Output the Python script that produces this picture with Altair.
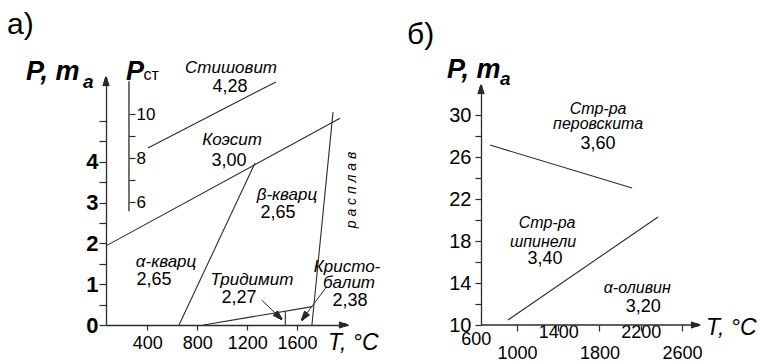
import math
import altair as alt
import pandas as pd

FONT = "Liberation Sans"
INK = "#2b2b2b"

# ================= panel а) : SiO2 =================
a_line_id = ["stish", "stish", "coes", "coes", "ab", "ab", "melt", "melt", "trid", "trid", "tc", "tc"]
a_line_T = [405, 1431, 69, 1944, 654, 1263, 1719, 1888, 849, 1722, 1506, 1506]
a_line_P = [4.34, 5.96, 1.94, 5.07, 0.0, 3.97, 0.0, 5.22, 0.0, 0.45, 0.0, 0.34]

a_arr_T0 = [1317, 1837]
a_arr_P0 = [0.61, 0.94]
a_arr_T1 = [1477, 1637]
a_arr_P1 = [0.14, 0.12]

a_pst_T = [253]
a_pst_lo = [5.6]
a_pst_hi = [11.5]
a_pst_ticks = [6, 7, 8, 9, 10]

a_xticks = [400, 800, 1200, 1600]
a_yticks = [0, 0.5, 1, 1.5, 2, 2.5, 3, 3.5, 4, 4.5, 5]

a_phase_lbl = ["Стишовит", "Коэсит", "β-кварц", "α-кварц", "Тридимит", "Кристо-", "балит"]
a_phase_T = [1071, 1079, 1519, 550, 1238, 2000, 2016]
a_phase_P = [6.30, 4.53, 3.19, 1.54, 1.10, 1.42, 1.02]

a_dens_lbl = ["4,28", "3,00", "2,65", "2,65", "2,27", "2,38"]
a_dens_T = [1063, 1055, 1447, 454, 1135, 2024]
a_dens_P = [5.83, 4.02, 2.74, 1.10, 0.66, 0.60]

a_melt_lbl = ["р  а  с  п  л  а  в"]
a_melt_T = [2040]
a_melt_P = [3.31]

# ================= panel б) : olivine =================
b_line_id = ["perov", "perov", "spin", "spin"]
b_line_T = [739, 2117, 913, 2368]
b_line_P = [27.14, 23.05, 10.48, 20.29]

b_xticks = [1000, 1400, 1800, 2200, 2600]
b_xlab_first = [600]
b_xlab_upper = [1400, 2200]
b_xlab_lower = [1000, 1800, 2600]
b_yticks = [10, 12, 14, 16, 18, 20, 22, 24, 26, 28, 30]

b_phase_lbl = ["Стр-ра", "перовскита", "Стр-ра", "шпинели", "α-оливин"]
b_phase_T = [1787, 1787, 1292, 1253, 2166]
b_phase_P = [30.60, 29.18, 19.75, 17.95, 13.52]

b_dens_lbl = ["3,60", "3,40", "3,20"]
b_dens_T = [1787, 1272, 2224]
b_dens_P = [27.24, 16.29, 11.71]

# ================= layout (scales) =================
W, H = 759, 363
XA_DOM, XA_RNG = [69, 2008], [106, 348]
YA_DOM, YA_RNG = [0, 6.08], [325, 77]
PST_DOM = [0.43, 11.69]
XB_DOM, XB_RNG = [600, 2775], [475.7, 700]
YB_DOM, YB_RNG = [10, 32.86], [325, 85]
B_ORIGIN_T = 651.4

HEAD_LEN, HEAD_W, FAN = 9.0, 6.0, 15   # arrowhead length / base width (px), strokes per head


def sc(dom, rng):
    return alt.Scale(domain=dom, range=rng, nice=False, zero=False)


SXA, SYA, SPST = sc(XA_DOM, XA_RNG), sc(YA_DOM, YA_RNG), sc(PST_DOM, YA_RNG)
SXB, SYB = sc(XB_DOM, XB_RNG), sc(YB_DOM, YB_RNG)


def lin(v, dom, rng):
    return rng[0] + (v - dom[0]) / (dom[1] - dom[0]) * (rng[1] - rng[0])


def inv(p, dom, rng):
    return dom[0] + (p - rng[0]) / (rng[1] - rng[0]) * (dom[1] - dom[0])


def head_fan(tips, xdom, xrng, ydom, yrng):
    """Filled arrowhead = fan of short strokes from the tip to points spread across the base."""
    rows = []
    for t0, p0, t1, p1 in tips:
        x0, y0 = lin(t0, xdom, xrng), lin(p0, ydom, yrng)
        x1, y1 = lin(t1, xdom, xrng), lin(p1, ydom, yrng)
        d = math.hypot(x1 - x0, y1 - y0)
        ux, uy = (x1 - x0) / d, (y1 - y0) / d
        nx, ny = -uy, ux
        bx, by = x1 - HEAD_LEN * ux, y1 - HEAD_LEN * uy
        for i in range(FAN):
            s = -HEAD_W / 2 + HEAD_W * i / (FAN - 1)
            rows.append({"T0": float(t1), "P0": float(p1),
                         "T1": inv(bx + s * nx, xdom, xrng), "P1": inv(by + s * ny, ydom, yrng)})
    return pd.DataFrame(rows)


def X(field, s, axis=None):
    return alt.X(field, type="quantitative", scale=s, axis=axis)


def Y(field, s, axis=None):
    return alt.Y(field, type="quantitative", scale=s, axis=axis)


def text_layer(lbls, Ts, Ps, sx, sy, xaxis=None, **kw):
    df = pd.DataFrame({"label": lbls, "T": Ts, "P": Ps})
    return alt.Chart(df).mark_text(font=FONT, color="black", **kw).encode(
        x=X("T", sx, xaxis), y=Y("P", sy), text="label:N")


def heads_layer(df, sx, sy, xaxis=None):
    return alt.Chart(df).mark_rule(color=INK, strokeWidth=1.3).encode(
        x=X("T0", sx, xaxis), y=Y("P0", sy), x2="T1:Q", y2="P1:Q")


layers = []

# ---------- panel а) ----------
df_a = pd.DataFrame({"id": a_line_id, "T": a_line_T, "P": a_line_P})
layers.append(
    alt.Chart(df_a).mark_line(color=INK, strokeWidth=1.1).encode(
        x=X("T", SXA, alt.Axis(orient="bottom", offset=-(H - YA_RNG[0]), values=a_xticks,
                                 format="d", labelFlush=False,
                                 tickSize=5, labelPadding=13, labelBaseline="middle",
                                 labelFontSize=18, grid=False, title=None)),
        y=Y("P", SYA, alt.Axis(orient="left", offset=-XA_RNG[0], values=a_yticks,
                                 tickSize=7, labelPadding=1, labelFontSize=22,
                                 labelFontWeight="bold", labelFlush=False,
                                 labelExpr="(datum.value % 1 == 0 && datum.value <= 4) ? toString(datum.value) : ''",
                                 grid=False, title=None)),
        detail="id:N")
)

df_pst = pd.DataFrame({"T": a_pst_T, "lo": a_pst_lo, "hi": a_pst_hi})
layers.append(
    alt.Chart(df_pst).mark_rule(color=INK, strokeWidth=1.3).encode(
        x=X("T", SXA),
        y=Y("lo", SPST, alt.Axis(orient="right", offset=-(W - XA_RNG[0] - 23), values=a_pst_ticks,
                                   tickSize=6, labelPadding=1, labelFontSize=17, domain=False,
                                   labelFlush=False,
                                   labelExpr="datum.value % 2 == 0 ? toString(datum.value) : ''",
                                   grid=False, title=None)),
        y2="hi:Q")
)

df_arr = pd.DataFrame({"T0": a_arr_T0, "P0": a_arr_P0, "T1": a_arr_T1, "P1": a_arr_P1})
layers.append(
    alt.Chart(df_arr).mark_rule(color=INK, strokeWidth=1.0).encode(
        x=X("T0", SXA), y=Y("P0", SYA), x2="T1:Q", y2="P1:Q")
)

tips_a = [(a_arr_T0[i], a_arr_P0[i], a_arr_T1[i], a_arr_P1[i]) for i in range(len(a_arr_T0))]
tips_a += [(XA_DOM[0], YA_DOM[0], XA_DOM[1], YA_DOM[0]),   # end of T axis
           (XA_DOM[0], YA_DOM[0], XA_DOM[0], YA_DOM[1])]   # end of P axis
layers.append(heads_layer(head_fan(tips_a, XA_DOM, XA_RNG, YA_DOM, YA_RNG), SXA, SYA))

layers.append(text_layer(a_phase_lbl, a_phase_T, a_phase_P, SXA, SYA,
                         fontSize=17, fontStyle="italic", align="center", baseline="middle"))
layers.append(text_layer(a_dens_lbl, a_dens_T, a_dens_P, SXA, SYA,
                         fontSize=18, align="center", baseline="middle"))
layers.append(text_layer(a_melt_lbl, a_melt_T, a_melt_P, SXA, SYA,
                         fontSize=14, fontStyle="italic", angle=270, align="center", baseline="middle"))
layers.append(text_layer(["а)"], [-724], [7.13], SXA, SYA, fontSize=30, align="left", baseline="alphabetic"))
layers.append(text_layer(["P,  m"], [-572], [6.0], SXA, SYA, fontSize=27, fontStyle="italic",
                         fontWeight="bold", align="left", baseline="alphabetic"))
layers.append(text_layer(["a"], [-115], [5.80], SXA, SYA, fontSize=19, fontStyle="italic",
                         fontWeight="bold", align="left", baseline="alphabetic"))
layers.append(text_layer(["P"], [229], [6.0], SXA, SYA, fontSize=27, fontStyle="italic",
                         fontWeight="bold", align="left", baseline="alphabetic"))
layers.append(text_layer(["ст"], [370], [6.0], SXA, SYA, fontSize=16, align="left", baseline="alphabetic"))
layers.append(text_layer(["T, °C"], [1848], [-0.61], SXA, SYA, fontSize=23, fontStyle="italic",
                         align="left", baseline="alphabetic"))

# ---------- panel б) ----------
df_b = pd.DataFrame({"id": b_line_id, "T": b_line_T, "P": b_line_P})
layers.append(
    alt.Chart(df_b).mark_line(color=INK, strokeWidth=1.1).encode(
        x=X("T", SXB, alt.Axis(orient="bottom", offset=-(H - YB_RNG[0]), values=b_xticks,
                                 tickSize=6, labels=False, domain=False, grid=False, title=None)),
        y=Y("P", SYB, alt.Axis(orient="left", offset=-481, values=b_yticks,
                                 tickSize=6, labelPadding=4, labelFontSize=20, labelFlush=False,
                                 labelExpr="(datum.value - 10) % 4 == 0 ? toString(datum.value) : ''",
                                 grid=False, title=None)),
        detail="id:N")
)

df_bx = pd.DataFrame({"T0": [B_ORIGIN_T], "T1": [XB_DOM[1]], "P": [YB_DOM[0]]})
layers.append(
    alt.Chart(df_bx).mark_rule(color=INK, strokeWidth=1.3).encode(
        x=X("T0", SXB, alt.Axis(orient="bottom", offset=-(H - YB_RNG[0]), values=b_xlab_upper,
                                  format="d", labelFlush=False,
                                  ticks=False, tickSize=0, domain=False, labelPadding=7,
                                  labelBaseline="middle", labelFontSize=18, grid=False, title=None)),
        x2="T1:Q", y=Y("P", SYB))
)

tips_b = [(B_ORIGIN_T, YB_DOM[0], XB_DOM[1], YB_DOM[0]),
          (B_ORIGIN_T, YB_DOM[0], B_ORIGIN_T, YB_DOM[1])]
layers.append(heads_layer(head_fan(tips_b, XB_DOM, XB_RNG, YB_DOM, YB_RNG), SXB, SYB,
                          alt.Axis(orient="bottom", offset=-(H - YB_RNG[0]), values=b_xlab_lower,
                                   format="d", labelFlush=False,
                                   ticks=False, tickSize=0, domain=False, labelPadding=28,
                                   labelBaseline="middle", labelFontSize=18, grid=False, title=None)))

layers.append(text_layer(b_phase_lbl, b_phase_T, b_phase_P, SXB, SYB,
                         fontSize=16, fontStyle="italic", align="center", baseline="middle"))
layers.append(text_layer(b_dens_lbl, b_dens_T, b_dens_P, SXB, SYB,
                         xaxis=alt.Axis(orient="bottom", offset=-(H - YB_RNG[0]), values=b_xlab_first,
                                        format="d", labelFlush=False,
                                        ticks=False, tickSize=0, domain=False, labelPadding=14,
                                        labelBaseline="middle", labelFontSize=18, grid=False, title=None),
                         fontSize=18, align="center", baseline="middle"))
layers.append(text_layer(["б)"], [-66], [36.76], SXB, SYB, fontSize=30, align="left", baseline="alphabetic"))
layers.append(text_layer(["P, m"], [322], [33.52], SXB, SYB, fontSize=27, fontStyle="italic",
                         fontWeight="bold", align="left", baseline="alphabetic"))
layers.append(text_layer(["a"], [835], [32.86], SXB, SYB, fontSize=19, fontStyle="italic",
                         fontWeight="bold", align="left", baseline="alphabetic"))
layers.append(text_layer(["T, °C"], [2833], [9.05], SXB, SYB, fontSize=23, fontStyle="italic",
                         align="left", baseline="alphabetic"))

chart = alt.layer(*layers).resolve_scale(x="independent", y="independent").properties(
    width=W, height=H, autosize=alt.AutoSizeParams(type="none"), padding=0,
    background="white"
).configure_view(stroke=None).configure_axis(
    labelFont=FONT, labelColor="black", tickColor=INK, domainColor=INK,
    tickWidth=1.2, domainWidth=1.3
)

chart.save("out.html", embed_options={"renderer": "svg", "actions": False})
